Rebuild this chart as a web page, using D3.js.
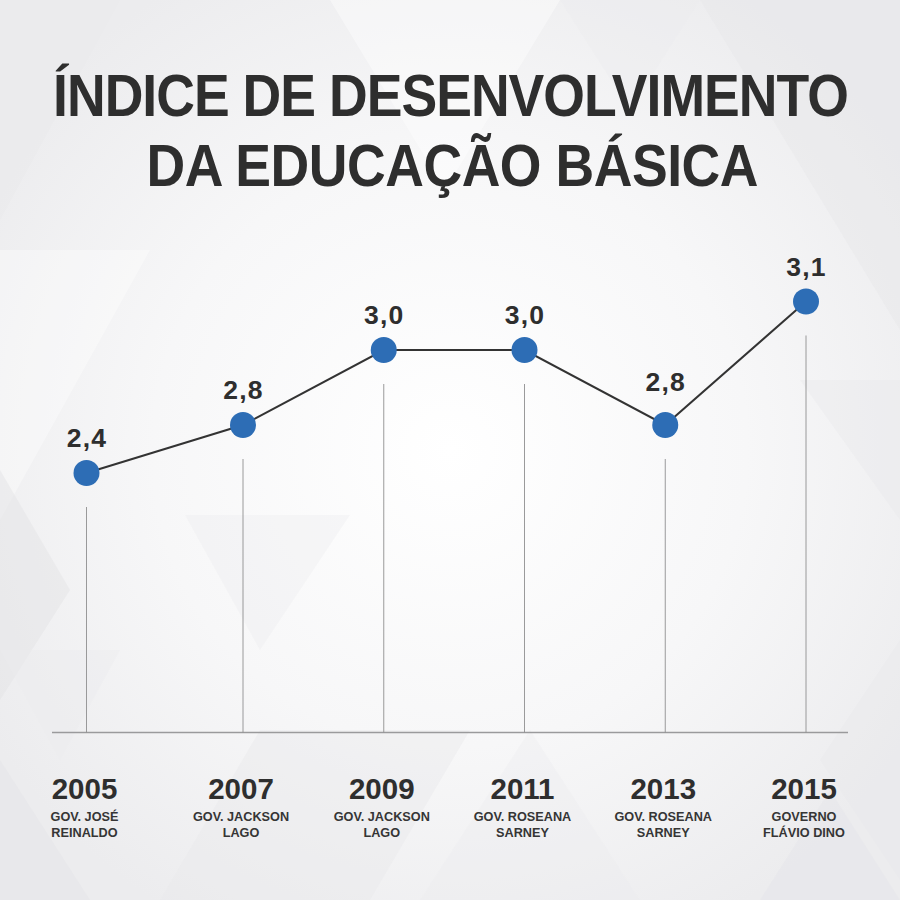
<!DOCTYPE html>
<html>
<head>
<meta charset="utf-8">
<script src="https://cdn.jsdelivr.net/npm/d3@7"></script>
<style>
html,body{margin:0;padding:0;background:#f2f2f3;}
svg{display:block;}
</style>
</head>
<body>
<svg id="chart" width="900" height="900"></svg>
<script>
// ---- data ----
const years = [2005, 2007, 2009, 2011, 2013, 2015];
const values = [2.4, 2.8, 3.0, 3.0, 2.8, 3.1];
const valueLabels = ["2,4", "2,8", "3,0", "3,0", "2,8", "3,1"];
const governors = [
  ["GOV. JOSÉ", "REINALDO"],
  ["GOV. JACKSON", "LAGO"],
  ["GOV. JACKSON", "LAGO"],
  ["GOV. ROSEANA", "SARNEY"],
  ["GOV. ROSEANA", "SARNEY"],
  ["GOVERNO", "FLÁVIO DINO"]
];
const titleLines = ["ÍNDICE DE DESENVOLVIMENTO", "DA EDUCAÇÃO BÁSICA"];

// ---- setup ----
const W = 900, H = 900;
const svg = d3.select("#chart");
const font = "'Liberation Sans', Arial, Helvetica, sans-serif";

// background
const defs = svg.append("defs");
const rg = defs.append("radialGradient").attr("id", "glow")
  .attr("cx", "50%").attr("cy", "50%").attr("r", "60%");
rg.append("stop").attr("offset", "0%").attr("stop-color", "#ffffff");
rg.append("stop").attr("offset", "55%").attr("stop-color", "#f7f7f8");
rg.append("stop").attr("offset", "100%").attr("stop-color", "#ececee");
svg.append("rect").attr("width", W).attr("height", H).attr("fill", "url(#glow)");

const bgTris = [
  {p: [[0,0],[120,0],[0,220]], c: "#e9e9eb", o: 0.5},
  {p: [[330,0],[560,0],[445,190]], c: "#ffffff", o: 0.4},
  {p: [[700,0],[900,0],[900,330]], c: "#e6e6e8", o: 0.45},
  {p: [[0,250],[0,520],[150,250]], c: "#ffffff", o: 0.35},
  {p: [[0,470],[0,700],[70,590]], c: "#e3e3e6", o: 0.5},
  {p: [[185,515],[350,515],[260,650]], c: "#ececee", o: 0.35},
  {p: [[0,650],[120,650],[60,760]], c: "#ebebed", o: 0.4},
  {p: [[160,900],[260,730],[470,730],[370,900]], c: "#e9e9eb", o: 0.45},
  {p: [[0,760],[0,900],[90,900]], c: "#e4e4e7", o: 0.5},
  {p: [[420,900],[530,730],[640,900]], c: "#ebebed", o: 0.35},
  {p: [[800,380],[900,380],[900,520]], c: "#e8e8ea", o: 0.4},
  {p: [[900,640],[820,760],[900,880]], c: "#e9e9eb", o: 0.4},
  {p: [[760,900],[900,900],[830,790]], c: "#e5e5e8", o: 0.45},
  {p: [[560,0],[700,0],[630,110]], c: "#ececee", o: 0.35}
];
svg.append("g").selectAll("polygon").data(bgTris).join("polygon")
  .attr("points", d => d.p.map(q => q.join(",")).join(" "))
  .attr("fill", d => d.c).attr("opacity", d => d.o);

// ---- scales ----
const x = d3.scaleLinear().domain([2005, 2007, 2015]).range([86.5, 243, 806]);
const y = d3.scaleLinear().domain([2.4, 2.8, 3.0, 3.1]).range([473, 425, 350, 301.5]);
const baseY = 732.5;

const data = years.map((yr, i) => ({yr, v: values[i], lab: valueLabels[i], gov: governors[i]}));

// title: slightly condensed glyphs + tightened spacing to match reference width
const titleWidths = [796, 612];
const titleX = [450, 452];
const squeeze = 0.9;
svg.append("g").selectAll("text").data(titleLines).join("text")
  .attr("x", 0).attr("y", 0)
  .attr("text-anchor", "middle")
  .attr("font-family", font).attr("font-weight", "bold")
  .attr("font-size", 59.5)
  .attr("fill", "#2e2e2e")
  .text(d => d)
  .each(function(d, i) {
    const natural = this.getComputedTextLength();
    const n = d.length;
    const ls = (titleWidths[i] / squeeze - natural) / (n - 1);
    d3.select(this).attr("letter-spacing", ls)
      .attr("x", -ls / 2)
      .attr("transform", `translate(${titleX[i]},${116 + i * 70}) scale(${squeeze},1)`);
  });

// baseline axis
svg.append("line")
  .attr("x1", 52).attr("x2", 848)
  .attr("y1", baseY).attr("y2", baseY)
  .attr("stroke", "#9a9a9c").attr("stroke-width", 1.6);

// drop lines
svg.append("g").selectAll("line").data(data).join("line")
  .attr("x1", d => x(d.yr)).attr("x2", d => x(d.yr))
  .attr("y1", d => y(d.v) + 34).attr("y2", baseY)
  .attr("stroke", "#8e8e90").attr("stroke-width", 0.9);

// connecting line
svg.append("path").datum(data)
  .attr("d", d3.line().x(d => x(d.yr)).y(d => y(d.v)))
  .attr("fill", "none").attr("stroke", "#333333").attr("stroke-width", 2);

// points
svg.append("g").selectAll("circle").data(data).join("circle")
  .attr("cx", d => x(d.yr)).attr("cy", d => y(d.v)).attr("r", 13)
  .attr("fill", "#2d6db5");

// value labels
svg.append("g").selectAll("text").data(data).join("text")
  .attr("x", d => x(d.yr) + 0.6)
  .attr("y", (d, i) => y(d.v) - (i === 4 ? 34 : 26))
  .attr("text-anchor", "middle")
  .attr("font-family", font).attr("font-weight", "bold")
  .attr("font-size", 26.5).attr("letter-spacing", 1.2)
  .attr("fill", "#2e2e2e")
  .text(d => d.lab);

// year labels
svg.append("g").selectAll("text").data(data).join("text")
  .attr("x", d => x(d.yr) - 2)
  .attr("y", 799)
  .attr("text-anchor", "middle")
  .attr("font-family", font).attr("font-weight", "bold")
  .attr("font-size", 29.5)
  .attr("fill", "#2e2e2e")
  .text(d => d.yr);

// governor labels
const gov = svg.append("g").selectAll("text").data(data).join("text")
  .attr("text-anchor", "middle")
  .attr("font-family", font).attr("font-weight", "bold")
  .attr("font-size", 12.7)
  .attr("fill", "#353535");
gov.each(function(d) {
  const t = d3.select(this);
  d.gov.forEach((line, j) => {
    t.append("tspan").attr("x", x(d.yr) - 2).attr("y", 821 + j * 15.8).text(line);
  });
});
</script>
</body>
</html>
